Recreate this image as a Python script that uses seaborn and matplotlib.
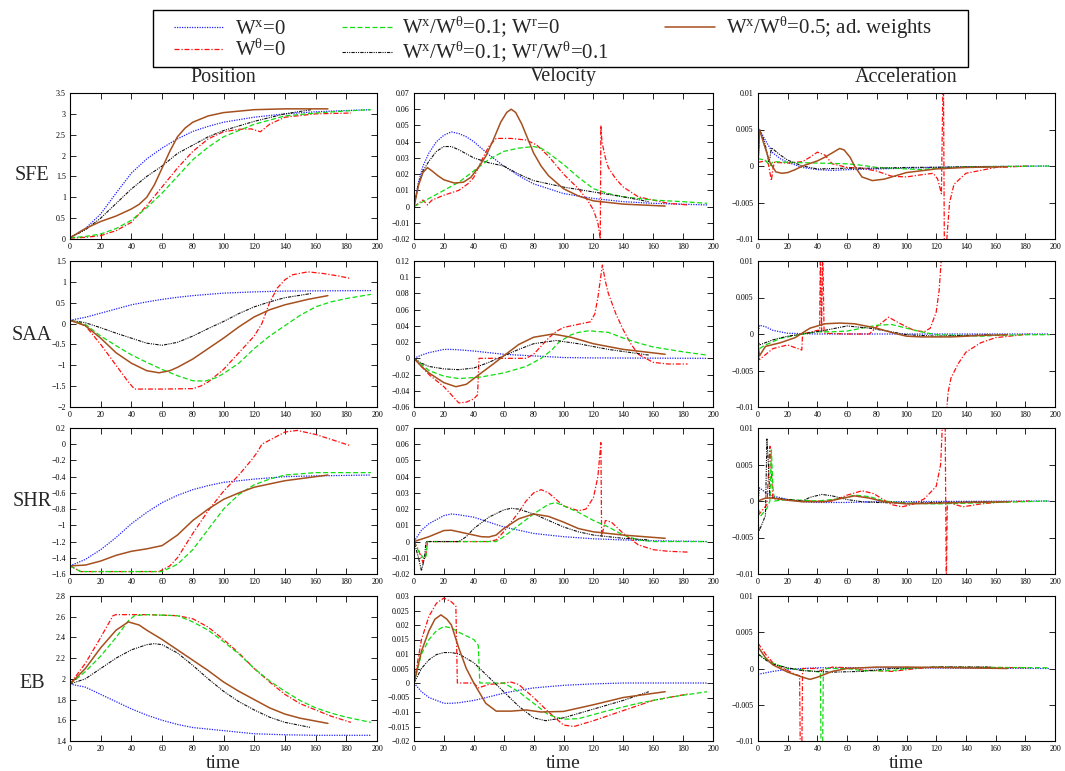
import matplotlib
matplotlib.use("Agg")
import matplotlib.pyplot as plt
from matplotlib.lines import Line2D
from matplotlib.patches import Rectangle
from matplotlib.ticker import FuncFormatter, MultipleLocator
import pandas as pd
import seaborn as sns

# ---------------- labels ----------------
SERIES_LABELS = [
    r"W$^{\mathrm{x}}$=0",
    r"W$^{\mathrm{θ}}$=0",
    r"W$^{\mathrm{x}}$/W$^{\mathrm{θ}}$=0.1; W$^{\mathrm{r}}$=0",
    r"W$^{\mathrm{x}}$/W$^{\mathrm{θ}}$=0.1; W$^{\mathrm{r}}$/W$^{\mathrm{θ}}$=0.1",
    r"W$^{\mathrm{x}}$/W$^{\mathrm{θ}}$=0.5; ad. weights",
]
ROW_LABELS = ["SFE", "SAA", "SHR", "EB"]
COL_TITLES = ["Position", "Velocity", "Acceleration"]
TIME_TICKS = [0, 20, 40, 60, 80, 100, 120, 140, 160, 180, 200]

# ---------------- data: (time, value); None = line break ----------------
# SFE position
sfe_pos_blue = [(0,0.03),(10,0.25),(20,0.6),(30,1.1),(40,1.58),(50,1.92),(60,2.18),(70,2.4),(80,2.58),(90,2.7),(100,2.8),(120,2.92),(140,3.0),(160,3.05),(180,3.08),(196,3.1)]
sfe_pos_red = [(0,0.02),(10,0.04),(20,0.08),(30,0.2),(40,0.4),(50,0.8),(60,1.25),(70,1.7),(80,2.1),(90,2.4),(100,2.57),(110,2.63),(118,2.64),(124,2.57),(130,2.75),(140,2.92),(160,3.0),(183,3.02)]
sfe_pos_green = [(0,0.03),(10,0.06),(20,0.12),(30,0.25),(40,0.45),(50,0.75),(60,1.1),(70,1.5),(80,1.9),(90,2.2),(100,2.45),(110,2.6),(120,2.75),(140,2.95),(160,3.02),(180,3.07),(196,3.1)]
sfe_pos_black = [(0,0.03),(10,0.22),(20,0.5),(30,0.85),(40,1.2),(50,1.5),(60,1.75),(70,2.05),(80,2.25),(90,2.45),(100,2.6),(120,2.82),(140,3.0),(157,3.1)]
sfe_pos_brown = [(0,0.03),(10,0.25),(20,0.42),(30,0.55),(40,0.72),(45,0.83),(50,1.0),(55,1.3),(60,1.7),(65,2.1),(70,2.45),(75,2.66),(80,2.8),(90,2.95),(100,3.03),(120,3.1),(140,3.12),(168,3.12)]
# SFE velocity
sfe_vel_blue = [(0,0),(3,0.015),(6,0.025),(10,0.033),(15,0.040),(20,0.044),(25,0.046),(30,0.045),(35,0.043),(40,0.040),(50,0.032),(60,0.025),(70,0.019),(80,0.014),(90,0.011),(100,0.008),(120,0.005),(140,0.003),(160,0.002),(196,0.001)]
sfe_vel_red = [(0,0),(6,0.004),(9,0.001),(12,0.004),(20,0.007),(30,0.01),(36,0.014),(40,0.018),(45,0.028),(50,0.037),(55,0.042),(65,0.042),(75,0.041),(82,0.038),(90,0.031),(100,0.02),(110,0.011),(116,0.004),(120,-0.002),(123,-0.01),(124.6,-0.02),(125,0.05),(125.7,0.04),(128,0.03),(130,0.024),(135,0.017),(140,0.012),(150,0.006),(160,0.004),(170,0.002),(183,0.001)]
sfe_vel_green = [(0,0),(10,0.005),(20,0.010),(30,0.015),(40,0.022),(50,0.029),(60,0.034),(70,0.036),(80,0.037),(85,0.036),(90,0.033),(100,0.026),(110,0.018),(120,0.011),(130,0.008),(140,0.006),(160,0.004),(180,0.003),(196,0.002)]
sfe_vel_black = [(0,0),(3,0.014),(6,0.022),(10,0.028),(15,0.034),(20,0.037),(25,0.037),(30,0.035),(40,0.030),(50,0.027),(60,0.025),(70,0.020),(80,0.016),(90,0.014),(100,0.012),(120,0.009),(140,0.006),(157,0.003)]
sfe_vel_brown = [(0,0),(3,0.013),(6,0.021),(9,0.024),(12,0.022),(16,0.019),(20,0.0165),(27,0.0145),(33,0.015),(38,0.018),(43,0.024),(48,0.031),(53,0.041),(58,0.052),(62,0.058),(65,0.060),(68,0.058),(72,0.051),(76,0.042),(80,0.033),(85,0.025),(90,0.019),(100,0.011),(110,0.0065),(120,0.0035),(140,0.0015),(168,0.0003)]
# SFE acceleration
sfe_acc_blue = [(0,0),(1,0.005),(5,0.0035),(10,0.0018),(15,0.001),(20,0.0005),(30,-0.0002),(40,-0.0005),(50,-0.0006),(60,-0.0005),(80,-0.0004),(100,-0.0003),(140,-0.0001),(196,0)]
sfe_acc_red = [(0,0.0005),(5,0.0007),(7,0.0003),(9,-0.002),(10,-0.0005),(11,0.0005),(20,0.0004),(30,0.0006),(35,0.0012),(40,0.0019),(45,0.0015),(50,0.0003),(60,-0.0002),(70,-0.0003),(80,-0.0007),(90,-0.0014),(100,-0.0015),(110,-0.0012),(118,-0.001),(121,-0.0018),(123.5,-0.0038),(124.8,0.015),(125.6,-0.015),(127.5,-0.009),(129,-0.005),(132,-0.0025),(140,-0.001),(160,-0.0002),(183,0)]
sfe_acc_green = [(0,0.001),(5,0.0008),(8,0.0),(10,0.0006),(20,0.0005),(40,0.0004),(60,0.0003),(70,0.0001),(80,-0.0002),(100,-0.0004),(110,-0.0005),(120,-0.0003),(140,-0.0001),(196,0)]
sfe_acc_black = [(0,0),(1,0.005),(4,0.0035),(6,0.002),(7,0.0005),(8,0.001),(9,0.0025),(12,0.002),(15,0.0015),(20,0.0008),(30,0),(40,-0.0004),(60,-0.0003),(80,-0.0003),(100,-0.0002),(157,-0.0001)]
sfe_acc_brown = [(0,0),(1,0.005),(4,0.003),(8,0.0005),(12,-0.0008),(16,-0.001),(20,-0.0009),(25,-0.0005),(30,0),(40,0.0007),(45,0.0012),(50,0.0018),(55,0.0024),(58,0.0022),(62,0.0012),(65,0.0),(70,-0.0015),(77,-0.002),(85,-0.0018),(90,-0.0015),(100,-0.0009),(120,-0.0004),(140,-0.0002),(168,-0.0001)]

# SAA position
saa_pos_blue = [(0,0.08),(10,0.15),(20,0.25),(30,0.35),(40,0.45),(50,0.52),(60,0.58),(70,0.63),(80,0.67),(100,0.73),(120,0.76),(140,0.78),(196,0.79)]
saa_pos_red = [(0,0.08),(10,-0.05),(20,-0.5),(30,-1.0),(38,-1.4),(42,-1.57),(60,-1.57),(80,-1.56),(85,-1.5),(90,-1.4),(100,-1.1),(110,-0.7),(115,-0.5),(120,-0.3),(125,0.0),(130,0.5),(135,0.85),(140,1.05),(145,1.17),(155,1.24),(165,1.2),(175,1.14),(183,1.08)]
saa_pos_green = [(0,0.08),(10,-0.02),(20,-0.3),(30,-0.53),(40,-0.75),(50,-0.93),(60,-1.1),(70,-1.25),(80,-1.37),(88,-1.38),(95,-1.3),(100,-1.2),(110,-0.95),(120,-0.6),(130,-0.3),(140,-0.05),(150,0.2),(160,0.4),(170,0.52),(180,0.6),(196,0.7)]
saa_pos_black = [(0,0.08),(10,0.02),(20,-0.1),(30,-0.23),(40,-0.35),(50,-0.47),(60,-0.52),(70,-0.45),(80,-0.3),(90,-0.12),(100,0.05),(110,0.24),(120,0.4),(130,0.52),(140,0.62),(157,0.72)]
saa_pos_brown = [(0,0.08),(10,-0.05),(20,-0.35),(30,-0.7),(40,-0.95),(50,-1.13),(58,-1.18),(65,-1.13),(70,-1.05),(80,-0.85),(90,-0.6),(100,-0.35),(110,-0.08),(120,0.16),(130,0.33),(140,0.45),(155,0.58),(168,0.67)]
# SAA velocity
saa_vel_blue = [(0,0),(5,0.004),(10,0.007),(20,0.011),(25,0.011),(30,0.0105),(40,0.009),(50,0.007),(60,0.005),(80,0.003),(100,0.001),(120,0.0005),(196,0)]
saa_vel_red = [(0,0),(10,-0.02),(20,-0.035),(25,-0.045),(30,-0.055),(35,-0.054),(40,-0.05),(42.5,-0.045),(43.5,0.0),(60,0.0),(75,0.0),(80,0.005),(85,0.015),(90,0.025),(95,0.033),(100,0.038),(110,0.042),(118,0.045),(121,0.055),(123,0.075),(126,0.115),(128,0.095),(130,0.08),(135,0.055),(140,0.035),(145,0.018),(150,0.005),(160,-0.005),(170,-0.007),(183,-0.007)]
saa_vel_green = [(0,0),(10,-0.015),(20,-0.022),(30,-0.025),(45,-0.023),(60,-0.018),(75,-0.01),(85,0.0),(92,0.01),(97,0.02),(105,0.029),(110,0.032),(117,0.034),(130,0.032),(140,0.025),(150,0.019),(160,0.014),(180,0.008),(196,0.004)]
saa_vel_black = [(0,0),(5,-0.006),(10,-0.01),(20,-0.013),(30,-0.014),(40,-0.012),(50,-0.005),(60,0.003),(70,0.011),(80,0.018),(95,0.022),(110,0.018),(130,0.011),(157,0.004)]
saa_vel_brown = [(0,0),(5,-0.01),(10,-0.018),(20,-0.03),(28,-0.035),(35,-0.032),(45,-0.018),(53,-0.007),(60,0.003),(70,0.017),(80,0.026),(93,0.03),(105,0.026),(120,0.018),(140,0.011),(168,0.005)]
# SAA acceleration
saa_acc_blue = [(0,0),(1,0.0012),(5,0.001),(10,0.0005),(20,0.0001),(40,0.0),(196,0.0)]
saa_acc_red = [(0,-0.003),(1,-0.0035),(10,-0.002),(20,-0.0015),(29.5,-0.0022),(30,0.0),(40,0.0005),(41.5,0.0005),(42,0.012),(42.8,0.0003),(43.6,0.012),(44.5,0.0001),(60,0.0),(75,0.0),(80,0.001),(88,0.0023),(95,0.0015),(105,0.0005),(112,0.0003),(116,0.0008),(120,0.003),(122,0.006),(124,0.012),None,(126.5,-0.012),(128,-0.008),(130,-0.006),(135,-0.004),(140,-0.0025),(150,-0.0012),(160,-0.0005),(183,0)]
saa_acc_green = [(0,-0.001),(1,-0.002),(5,-0.0015),(15,-0.0006),(30,0.0),(40,0.0003),(50,0.0003),(60,0.0004),(70,0.0008),(80,0.0012),(90,0.0013),(100,0.0008),(110,0.0003),(120,-0.0001),(140,-0.0002),(150,-0.0003),(160,-0.0002),(180,-0.0001),(196,-0.0001)]
saa_acc_black = [(0,-0.001),(1,-0.0015),(10,-0.0008),(20,-0.0003),(30,0.0),(45,0.0005),(60,0.0011),(75,0.0008),(90,0.0003),(100,-0.0001),(120,-0.0003),(157,-0.0001)]
saa_acc_brown = [(0,-0.0015),(1,-0.003),(5,-0.0017),(15,-0.0012),(25,-0.0005),(35,0.0008),(45,0.0014),(55,0.0015),(65,0.0014),(80,0.0008),(90,0.0002),(100,-0.0003),(110,-0.0004),(130,-0.0004),(150,-0.0002),(168,-0.0001)]

# SHR position (black curve not shown in the original panel)
shr_pos_blue = [(0,-1.5),(10,-1.42),(20,-1.3),(30,-1.15),(40,-0.98),(50,-0.84),(60,-0.72),(70,-0.63),(80,-0.56),(90,-0.51),(100,-0.47),(120,-0.43),(140,-0.4),(160,-0.39),(196,-0.38)]
shr_pos_red = [(0,-1.5),(7,-1.57),(30,-1.57),(58,-1.57),(65,-1.5),(70,-1.4),(80,-1.1),(90,-0.82),(100,-0.58),(110,-0.38),(118,-0.2),(122,-0.1),(125,0.0),(130,0.05),(140,0.15),(148,0.17),(160,0.12),(170,0.06),(183,-0.02)]
shr_pos_green = [(0,-1.5),(7,-1.57),(60,-1.57),(70,-1.48),(80,-1.3),(90,-1.05),(100,-0.8),(110,-0.62),(120,-0.5),(130,-0.43),(140,-0.38),(160,-0.35),(196,-0.35)]
shr_pos_black = []
shr_pos_brown = [(0,-1.5),(10,-1.49),(20,-1.44),(30,-1.37),(40,-1.32),(50,-1.29),(60,-1.25),(70,-1.12),(80,-0.94),(90,-0.8),(100,-0.68),(110,-0.6),(120,-0.53),(140,-0.45),(168,-0.38)]
# SHR velocity
shr_vel_blue = [(0,0),(5,0.007),(10,0.011),(20,0.016),(25,0.017),(30,0.0165),(40,0.015),(50,0.012),(60,0.009),(70,0.007),(80,0.005),(100,0.003),(120,0.0017),(140,0.001),(160,0.0005),(196,0.0)]
shr_vel_red = [(0,0),(3,-0.005),(6,-0.013),(8,-0.008),(9,0.0),(50,0.0),(55,0.001),(60,0.006),(65,0.012),(70,0.018),(75,0.025),(80,0.03),(85,0.032),(90,0.03),(100,0.022),(110,0.019),(115,0.02),(120,0.027),(123,0.04),(125,0.061),(125.5,0.003),(128,0.013),(132,0.012),(140,0.005),(150,-0.002),(160,-0.005),(170,-0.006),(183,-0.0065)]
shr_vel_green = [(0,0),(3,-0.006),(7,-0.011),(8,-0.009),(9,0.0),(55,0.0),(60,0.003),(70,0.01),(80,0.017),(90,0.023),(95,0.024),(100,0.022),(110,0.018),(120,0.013),(125,0.011),(130,0.009),(140,0.004),(150,0.001),(160,0.0),(196,0)]
shr_vel_black = [(0,0),(3,-0.01),(5,-0.018),(7,-0.01),(8,0.0),(30,0.0),(35,0.003),(40,0.008),(50,0.015),(60,0.0195),(65,0.0205),(70,0.02),(80,0.017),(90,0.013),(100,0.009),(110,0.006),(120,0.004),(140,0.002),(157,0.001)]
shr_vel_brown = [(0,0),(10,0.003),(20,0.0068),(25,0.007),(35,0.005),(45,0.003),(50,0.0028),(55,0.004),(60,0.008),(70,0.014),(80,0.017),(90,0.0155),(100,0.012),(110,0.008),(120,0.006),(140,0.004),(168,0.002)]
# SHR acceleration
shr_acc_blue = [(0,0),(1,0.0018),(5,0.0012),(10,0.0007),(20,0.0002),(30,-0.0001),(40,-0.0002),(60,-0.0002),(80,-0.0001),(196,0)]
shr_acc_red = [(0,-0.002),(2,-0.0015),(6,-0.0005),(8,0.0075),(9,0.004),(10,0.0003),(30,0.0),(50,0.0),(60,0.0008),(70,0.0014),(78,0.001),(90,-0.0005),(97,-0.0008),(105,-0.0004),(112,0.0003),(120,0.002),(123,0.005),(124.5,0.012),(126,0.012),(126.8,-0.012),(127.5,0.0),(128,-0.0002),(138,-0.0008),(150,-0.0004),(160,-0.0002),(183,0)]
shr_acc_green = [(0,-0.001),(2,-0.002),(6,-0.001),(8,0.0),(9,0.007),(10,0.002),(11,0.0),(20,0.0002),(40,0.0),(55,0.0003),(65,0.0008),(75,0.0006),(85,0.0),(100,-0.0003),(120,-0.0004),(140,-0.0003),(160,-0.0002),(196,0)]
shr_acc_black = [(0,-0.003),(1,-0.004),(4,-0.0025),(5,-0.002),(6,0.0085),(7,0.005),(8,0.0005),(20,0.0002),(30,0.0),(35,0.0005),(43,0.0009),(50,0.0007),(60,0.0002),(70,-0.0001),(80,-0.0002),(100,-0.0003),(120,-0.0002),(157,-0.0001)]
shr_acc_brown = [(0,0),(5,0.0004),(10,0.0004),(20,0.0001),(30,-0.0001),(45,-0.0001),(55,0.0003),(65,0.0007),(75,0.0004),(85,-0.0001),(100,-0.0004),(120,-0.0003),(140,-0.0002),(168,-0.0001)]

# EB position
eb_pos_blue = [(0,1.95),(10,1.92),(20,1.85),(30,1.78),(40,1.71),(50,1.65),(60,1.6),(70,1.56),(80,1.53),(100,1.5),(120,1.47),(140,1.46),(160,1.455),(196,1.455)]
eb_pos_red = [(0,1.95),(10,2.15),(20,2.4),(28,2.61),(30,2.62),(50,2.62),(70,2.61),(80,2.58),(90,2.5),(100,2.38),(110,2.25),(120,2.1),(130,1.97),(140,1.85),(150,1.76),(160,1.7),(170,1.64),(183,1.58)]
eb_pos_green = [(0,1.95),(10,2.07),(20,2.22),(30,2.4),(38,2.56),(42,2.61),(50,2.62),(70,2.61),(80,2.55),(90,2.47),(100,2.36),(110,2.24),(120,2.1),(130,1.98),(140,1.88),(150,1.79),(160,1.72),(170,1.67),(180,1.63),(196,1.58)]
eb_pos_black = [(0,1.95),(10,2.0),(20,2.1),(30,2.2),(40,2.28),(50,2.33),(55,2.34),(60,2.33),(70,2.25),(80,2.13),(90,2.0),(100,1.88),(110,1.78),(120,1.7),(130,1.63),(140,1.58),(157,1.53)]
eb_pos_brown = [(0,1.95),(10,2.1),(20,2.3),(30,2.47),(38,2.55),(45,2.52),(50,2.47),(60,2.38),(70,2.28),(80,2.18),(90,2.08),(100,1.97),(110,1.88),(120,1.8),(130,1.72),(140,1.66),(150,1.62),(168,1.57)]
# EB velocity
eb_vel_blue = [(0,0),(5,-0.003),(10,-0.005),(20,-0.007),(25,-0.007),(30,-0.0068),(40,-0.006),(50,-0.0048),(60,-0.0035),(70,-0.0025),(80,-0.0017),(100,-0.0008),(120,-0.0003),(140,0.0),(196,0)]
eb_vel_red = [(0,0),(5,0.015),(10,0.023),(15,0.0275),(20,0.0293),(25,0.028),(28,0.0265),(29,0.0),(40,0.0),(43,-0.0017),(50,-0.0005),(60,0.0),(65,0.0003),(70,-0.0005),(80,-0.005),(90,-0.01),(100,-0.0145),(107,-0.015),(120,-0.013),(140,-0.0095),(160,-0.006),(183,-0.0038)]
eb_vel_green = [(0,0),(5,0.01),(10,0.015),(15,0.018),(20,0.0195),(25,0.019),(30,0.0175),(40,0.015),(43,0.013),(44,0.0),(60,0.0),(70,-0.003),(80,-0.007),(90,-0.011),(100,-0.0125),(110,-0.0123),(130,-0.0095),(150,-0.007),(170,-0.005),(196,-0.003)]
eb_vel_black = [(0,0),(5,0.005),(10,0.008),(15,0.0098),(20,0.0105),(25,0.0105),(30,0.01),(40,0.007),(50,0.002),(60,-0.003),(70,-0.008),(80,-0.012),(88,-0.013),(100,-0.012),(120,-0.009),(140,-0.006),(157,-0.003)]
eb_vel_brown = [(0,0),(5,0.011),(10,0.018),(14,0.022),(18,0.0235),(22,0.022),(25,0.02),(30,0.012),(35,0.005),(40,0.0),(48,-0.007),(55,-0.0097),(65,-0.0097),(75,-0.0093),(85,-0.01),(100,-0.0098),(120,-0.0075),(140,-0.005),(168,-0.003)]
# EB acceleration
eb_acc_blue = [(0,-0.0008),(5,-0.0006),(10,-0.0004),(20,-0.0001),(40,0.0001),(80,0.0001),(196,0.0)]
eb_acc_red = [(0,0.0035),(5,0.002),(10,0.0008),(20,-0.0003),(25,-0.0008),(28,-0.001),(28.5,-0.012),(29.5,-0.012),(30,0.0),(40,0.0),(42,-0.0003),(50,0.0002),(60,0.0001),(70,-0.0002),(90,-0.0004),(107,0.0),(120,0.0002),(183,0.0001)]
eb_acc_green = [(0,0.002),(5,0.0013),(10,0.0007),(20,0.0),(30,-0.0002),(42,-0.0005),(42.5,-0.012),(43.5,-0.012),(44,0.0),(60,0.0),(70,-0.0003),(90,-0.0003),(100,0.0),(120,0.0002),(196,0.0001)]
eb_acc_black = [(0,0.002),(5,0.0012),(10,0.0006),(20,0.0001),(30,-0.0003),(50,-0.0005),(70,-0.0004),(90,0.0),(120,0.0002),(157,0.0002)]
eb_acc_brown = [(0,0.003),(5,0.0015),(10,0.0005),(20,-0.0005),(30,-0.0012),(35,-0.0015),(40,-0.0012),(50,-0.0004),(60,0.0),(80,0.0002),(100,0.0002),(168,0.0)]

# ---------------- axis ranges (ymin, ymax, step) ----------------
YRANGES = [
    [(0, 3.5, 0.5), (-0.02, 0.07, 0.01), (-0.01, 0.01, 0.005)],
    [(-2, 1.5, 0.5), (-0.06, 0.12, 0.02), (-0.01, 0.01, 0.005)],
    [(-1.6, 0.2, 0.2), (-0.02, 0.07, 0.01), (-0.01, 0.01, 0.005)],
    [(1.4, 2.8, 0.2), (-0.02, 0.03, 0.005), (-0.01, 0.01, 0.005)],
]

PANELS = [
    [[sfe_pos_blue, sfe_pos_red, sfe_pos_green, sfe_pos_black, sfe_pos_brown],
     [sfe_vel_blue, sfe_vel_red, sfe_vel_green, sfe_vel_black, sfe_vel_brown],
     [sfe_acc_blue, sfe_acc_red, sfe_acc_green, sfe_acc_black, sfe_acc_brown]],
    [[saa_pos_blue, saa_pos_red, saa_pos_green, saa_pos_black, saa_pos_brown],
     [saa_vel_blue, saa_vel_red, saa_vel_green, saa_vel_black, saa_vel_brown],
     [saa_acc_blue, saa_acc_red, saa_acc_green, saa_acc_black, saa_acc_brown]],
    [[shr_pos_blue, shr_pos_red, shr_pos_green, shr_pos_black, shr_pos_brown],
     [shr_vel_blue, shr_vel_red, shr_vel_green, shr_vel_black, shr_vel_brown],
     [shr_acc_blue, shr_acc_red, shr_acc_green, shr_acc_black, shr_acc_brown]],
    [[eb_pos_blue, eb_pos_red, eb_pos_green, eb_pos_black, eb_pos_brown],
     [eb_vel_blue, eb_vel_red, eb_vel_green, eb_vel_black, eb_vel_brown],
     [eb_acc_blue, eb_acc_red, eb_acc_green, eb_acc_black, eb_acc_brown]],
]

# ---------------- styles ----------------
STYLES = [
    dict(color="#2020ff", lw=0.9, ls=(0, (1, 1))),
    dict(color="#ff1010", lw=0.9, ls=(0, (4, 1.5, 1, 1.5))),
    dict(color="#10dd10", lw=0.9, ls=(0, (4, 2))),
    dict(color="#101010", lw=0.8, ls=(0, (3, 1, 1, 1, 1, 1))),
    dict(color="#a5501e", lw=1.1, ls="-"),
]

sns.set_style("ticks")
plt.rcParams["font.family"] = ["Liberation Serif", "DejaVu Serif"]
plt.rcParams["mathtext.fontset"] = "custom"
plt.rcParams["mathtext.rm"] = "Liberation Serif"
plt.rcParams["mathtext.it"] = "Liberation Serif:italic"

W, H = 1065, 771
fig = plt.figure(figsize=(W / 100, H / 100), dpi=100)

col_px = [(70, 377), (414, 713), (758, 1055)]
row_px = [(93, 239), (261, 407), (428, 574), (596, 741)]


def fmt(v, pos):
    r = round(v, 6)
    if abs(r) < 1e-9:
        return "0"
    return f"{r:g}".replace("-", "\u2212")


def segments(points):
    seg = []
    for p in points:
        if p is None:
            if seg:
                yield seg
            seg = []
        else:
            seg.append(p)
    if seg:
        yield seg


for r, (top, bot) in enumerate(row_px):
    for c, (lft, rgt) in enumerate(col_px):
        ax = fig.add_axes([lft / W, 1 - bot / H, (rgt - lft) / W, (bot - top) / H])
        for s, pts in enumerate(PANELS[r][c]):
            st = STYLES[s]
            for seg in segments(pts):
                df = pd.DataFrame(seg, columns=["time", "value"])
                sns.lineplot(data=df, x="time", y="value", ax=ax, color=st["color"],
                             linewidth=st["lw"], linestyle=st["ls"], sort=False,
                             estimator=None, errorbar=None, legend=False)
        ymin, ymax, step = YRANGES[r][c]
        ax.set_xlim(0, 200)
        ax.set_ylim(ymin, ymax)
        ax.set_xticks(TIME_TICKS)
        ax.yaxis.set_major_locator(MultipleLocator(step))
        ax.yaxis.set_major_formatter(FuncFormatter(fmt))
        ax.xaxis.set_major_formatter(FuncFormatter(fmt))
        ax.tick_params(direction="in", length=4, width=0.6, labelsize=5.8,
                       top=True, right=True, pad=3, colors="black")
        for sp in ax.spines.values():
            sp.set_visible(True)
            sp.set_linewidth(0.8)
            sp.set_color("black")
        ax.set_xlabel("")
        ax.set_ylabel("")
        if r == 3:
            fig.text((lft + rgt) / 2 / W, 1 - 763 / H, "time", ha="center", va="center", fontsize=14)
        if r == 0:
            fig.text((lft + rgt) / 2 / W, 1 - 77 / H, COL_TITLES[c], ha="center", va="center", fontsize=14.5)

row_label_y = [175, 335, 501, 683]
for r, lab in enumerate(ROW_LABELS):
    fig.text(32 / W, 1 - row_label_y[r] / H, lab, ha="center", va="center", fontsize=14.5)

handles = [Line2D([], [], color=st["color"], lw=st["lw"], linestyle=st["ls"]) for st in STYLES]
leg = fig.legend(handles, SERIES_LABELS, ncol=3, loc="center",
                 bbox_to_anchor=(168 / W, 1 - 62 / H, 770 / W, 44 / H), mode="expand",
                 fontsize=15, frameon=False, handlelength=2.4, handletextpad=0.5,
                 borderaxespad=0, borderpad=0.3, labelspacing=0.0, columnspacing=1.0)
fig.add_artist(Rectangle((153 / W, 1 - 67 / H), 815 / W, 57 / H, transform=fig.transFigure,
                         fill=False, edgecolor="black", linewidth=1.0))

fig.savefig("out.png", dpi=100)
